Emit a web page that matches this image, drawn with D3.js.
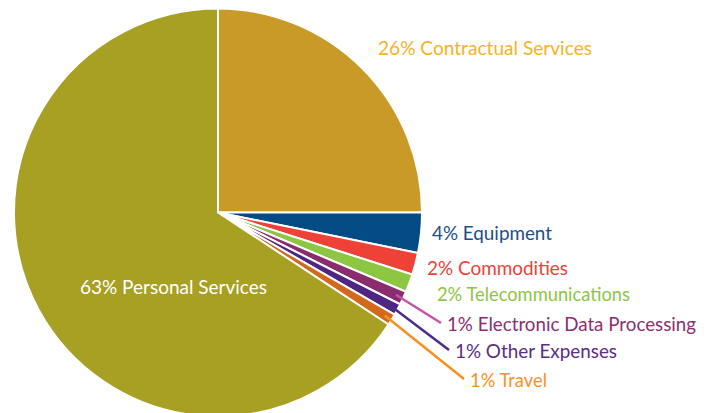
<!DOCTYPE html>
<html>
<head>
<meta charset="utf-8">
<script src="https://cdn.jsdelivr.net/npm/d3@7"></script>
<style>
  html, body { margin: 0; padding: 0; background: #fff; }
  svg { display: block; }
  text { font-family: Lato, "Open Sans", sans-serif; font-weight: 400; }
</style>
</head>
<body>
<svg id="chart" width="714" height="413"></svg>
<script>
// ---- data ----
const categories = ["Contractual Services", "Equipment", "Commodities", "Telecommunications",
                    "Electronic Data Processing", "Other Expenses", "Travel", "Personal Services"];
const percentLabels = ["26%", "4%", "2%", "2%", "1%", "1%", "1%", "63%"];
// slice shares as drawn in the picture (angles)
const sliceShares = [25.0, 3.18, 1.74, 1.43, 1.08, 0.92, 0.90, 65.75];

// ---- styling / layout ----
const sliceColors = ["#C99A28", "#034B85", "#EE4137", "#8DC641", "#8A2C6E", "#4F2682", "#D2691D", "#A7A022"];
const labelColors = ["#F5B324", "#1B4F8E", "#EF4136", "#8DC63F", "#8B2F70", "#5A2D86", "#F7941E", "#FFFFFF"];
const lineColors  = [null, null, null, null, "#C354A9", "#4C2C8A", "#F7901E", null];
const labelPos = [
  [378, 55, 214], [432, 240, 120], [427, 275, 141], [437, 301, 193],
  [447, 331, 249], [455, 358, 162], [470, 387, 77], [80, 294, 187]
];

const cx = 218, cy = 212.5, R = 204;
const svg = d3.select("#chart");
const g = svg.append("g").attr("transform", `translate(${cx},${cy})`);

const pie = d3.pie().sort(null).value(d => d.v).startAngle(0).endAngle(2 * Math.PI);
const data = categories.map((c, i) => ({ name: c, pct: percentLabels[i], v: sliceShares[i], i }));
const arcs = pie(data);
const arc = d3.arc().innerRadius(0).outerRadius(R);

g.selectAll("path.slice")
  .data(arcs)
  .join("path")
  .attr("class", "slice")
  .attr("d", arc)
  .attr("fill", d => sliceColors[d.data.i])
  .attr("stroke", "#fff")
  .attr("stroke-width", 2)
  .attr("stroke-linejoin", "miter");

// leader lines
arcs.forEach(d => {
  const i = d.data.i;
  if (!lineColors[i]) return;
  const mid = (d.startAngle + d.endAngle) / 2;
  const r0 = 196;
  const x0 = cx + r0 * Math.sin(mid), y0 = cy - r0 * Math.cos(mid);
  const x1 = labelPos[i][0] - 6, y1 = labelPos[i][1] - 8;
  svg.append("line")
    .attr("x1", x0).attr("y1", y0).attr("x2", x1).attr("y2", y1)
    .attr("stroke", lineColors[i]).attr("stroke-width", 2.5);
});

// labels
svg.selectAll("text.lbl")
  .data(data)
  .join("text")
  .attr("class", "lbl")
  .attr("x", d => labelPos[d.i][0])
  .attr("y", d => labelPos[d.i][1])
  .attr("fill", d => labelColors[d.i])
  .attr("font-size", 20)
  .attr("textLength", d => labelPos[d.i][2])
  .attr("lengthAdjust", "spacingAndGlyphs")
  .text(d => `${d.pct} ${d.name}`);
</script>
</body>
</html>
